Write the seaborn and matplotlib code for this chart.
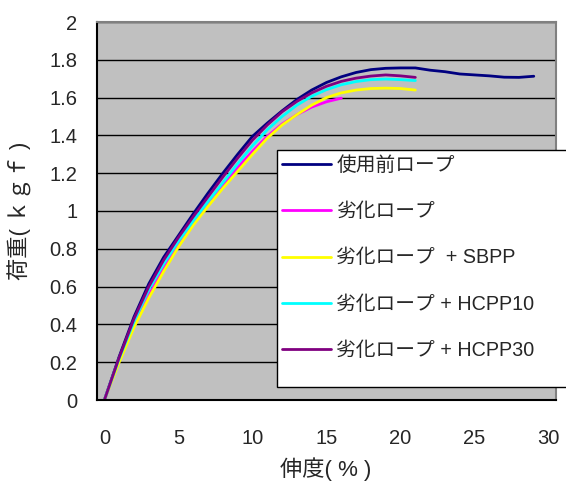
import numpy as np
import pandas as pd
import matplotlib
matplotlib.use("Agg")
import matplotlib.pyplot as plt
from matplotlib.patches import Rectangle
from matplotlib.lines import Line2D
import seaborn as sns

# ---- data ----
series_names = ["使用前ロープ", "劣化ロープ", "劣化ロープ  + SBPP", "劣化ロープ + HCPP10", "劣化ロープ + HCPP30"]
series_colors = ["#000080", "#FF00FF", "#FFFF00", "#00FFFF", "#800080"]

new_rope = [0, 0.23, 0.44, 0.615, 0.755, 0.87, 0.985, 1.095, 1.20, 1.30, 1.395, 1.465, 1.53, 1.59, 1.64,
            1.68, 1.71, 1.733, 1.748, 1.755, 1.757, 1.757, 1.745, 1.737, 1.725, 1.72, 1.715, 1.708, 1.707, 1.713]
aged_rope = [0, 0.21, 0.395, 0.555, 0.695, 0.825, 0.94, 1.045, 1.14, 1.23, 1.315, 1.395, 1.46, 1.51, 1.55,
             1.578, 1.597]
aged_sbpp = [0, 0.20, 0.385, 0.54, 0.68, 0.81, 0.925, 1.025, 1.12, 1.21, 1.30, 1.385, 1.455, 1.51, 1.56,
             1.60, 1.625, 1.64, 1.648, 1.65, 1.648, 1.64]
aged_hcpp10 = [0, 0.22, 0.415, 0.585, 0.72, 0.84, 0.948, 1.05, 1.15, 1.25, 1.345, 1.43, 1.50, 1.56, 1.607,
               1.642, 1.668, 1.685, 1.695, 1.698, 1.695, 1.69]
aged_hcpp30 = [0, 0.225, 0.43, 0.60, 0.74, 0.86, 0.97, 1.075, 1.18, 1.28, 1.375, 1.455, 1.525, 1.58, 1.625,
               1.66, 1.686, 1.703, 1.714, 1.72, 1.715, 1.707]
all_series = [new_rope, aged_rope, aged_sbpp, aged_hcpp10, aged_hcpp30]

x_ticks = [0, 5, 10, 15, 20, 25, 30]
y_ticks = [0, 0.2, 0.4, 0.6, 0.8, 1.0, 1.2, 1.4, 1.6, 1.8, 2.0]
y_tick_labels = ["0", "0.2", "0.4", "0.6", "0.8", "1", "1.2", "1.4", "1.6", "1.8", "2"]

rows = []
for name, vals in zip(series_names, all_series):
    for i, v in enumerate(vals):
        rows.append({"伸度": i, "荷重": v, "series": name})
df = pd.DataFrame(rows)

# ---- style ----
sns.set_style("white")
plt.rcParams["font.family"] = ["Liberation Sans", "Noto Sans CJK JP", "DejaVu Sans"]

W, H = 566, 483
fig = plt.figure(figsize=(W / 100, H / 100), dpi=100)
L, R, T, B = 97, 556, 22, 400
ax = fig.add_axes([L / W, (H - B) / H, (R - L) / W, (B - T) / H])
ax.set_facecolor("#C0C0C0")

sns.lineplot(data=df, x="伸度", y="荷重", hue="series", hue_order=series_names,
             palette=series_colors, linewidth=2.0, ax=ax, legend=False, sort=True)
for ln in ax.get_lines():
    ln.set_solid_joinstyle("round")
    ln.set_solid_capstyle("round")

ax.set_xlim(-0.5, 30.5)
ax.set_ylim(0, 2)
ax.set_xticks(x_ticks)
ax.set_xticklabels([str(t) for t in x_ticks])
ax.set_xticks(np.arange(-0.5, 31, 1), minor=True)
ax.set_yticks(y_ticks)
ax.set_yticklabels(y_tick_labels)
ax.tick_params(axis="x", which="major", length=0, pad=21, labelsize=14.5)
ax.tick_params(axis="x", which="minor", direction="in", length=5, width=1, color="black")
ax.tick_params(axis="y", which="major", direction="in", length=5.5, width=1, color="black",
               pad=14, labelsize=14.5)
ax.grid(axis="y", color="black", linewidth=1.0)
ax.set_axisbelow(True)

for s in ["left", "bottom"]:
    ax.spines[s].set_color("black")
    ax.spines[s].set_linewidth(1.5)
for s in ["top", "right"]:
    ax.spines[s].set_color("#808080")
    ax.spines[s].set_linewidth(1.5)

ax.set_xlabel("伸度( % )", fontsize=16)
ax.set_ylabel("荷重( ｋｇｆ )", fontsize=16)
ax.xaxis.set_label_coords((326 - L) / (R - L), (B - 457) / (B - T))
ax.yaxis.set_label_coords((32 - L) / (R - L), 0.5)

# legend box
fig.patches.append(Rectangle((277 / W, (H - 387) / H), (W - 277 + 5) / W, (387 - 150) / H,
                             transform=fig.transFigure, facecolor="white", edgecolor="black",
                             linewidth=1.0, zorder=2))
handles = [Line2D([], [], color=c, linewidth=2.0) for c in series_colors]
fig.legend(handles, series_names, loc="upper left",
           bbox_to_anchor=(282 / W, 1 - 156 / H), bbox_transform=fig.transFigure,
           frameon=False, fontsize=14.2, handlelength=2.5, handletextpad=0.25,
           labelspacing=1.38, borderpad=0, borderaxespad=0)

fig.savefig("out.png", dpi=100)
